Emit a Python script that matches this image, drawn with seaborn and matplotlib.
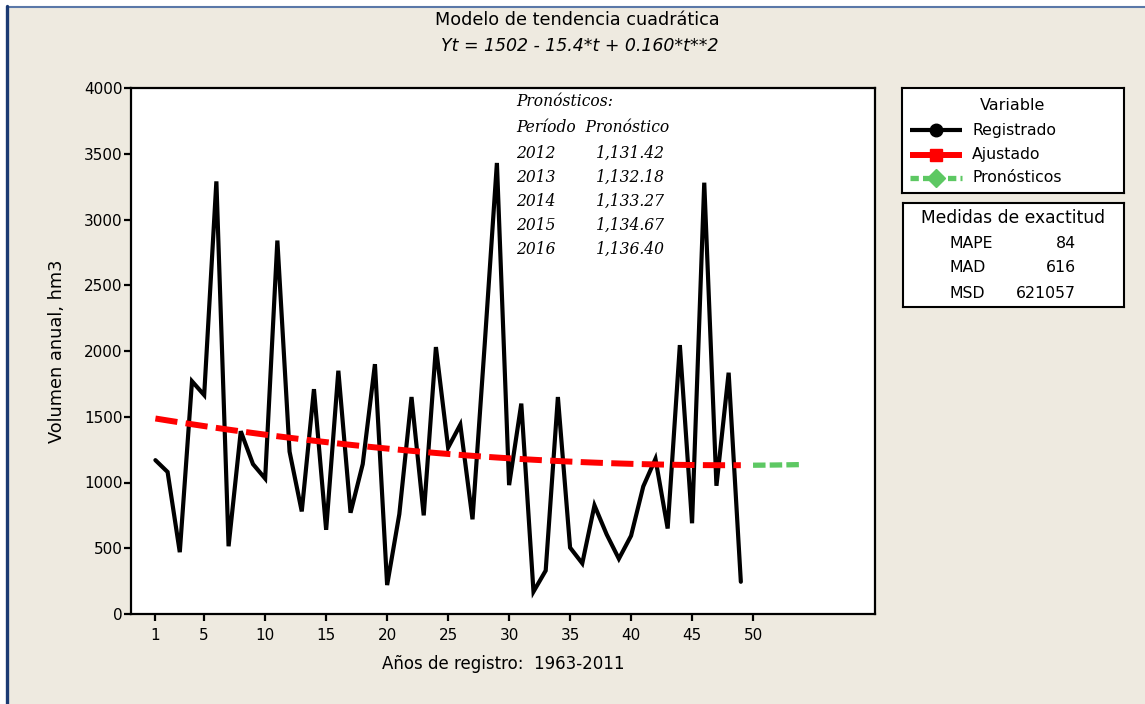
import numpy as np
import pandas as pd
import matplotlib
matplotlib.use("Agg")
import matplotlib.pyplot as plt
from matplotlib.patches import Rectangle
from matplotlib.lines import Line2D
import seaborn as sns

# Annual runoff volume, 1963-2011 (t = 1..49)
periodo = list(range(1, 50))
registrado = [1170, 1080, 470, 1770, 1665, 3290, 515, 1390, 1140, 1030,
              2840, 1235, 780, 1710, 640, 1850, 770, 1140, 1900, 220,
              760, 1650, 750, 2030, 1265, 1440, 720, 2050, 3430, 980,
              1600, 170, 330, 1650, 505, 385, 826, 605, 420, 595,
              970, 1180, 650, 2045, 690, 3280, 975, 1835, 245]

# Quadratic trend coefficients: Yt = b0 + b1*t + b2*t**2
b0, b1, b2 = 1502.0, -15.4, 0.160

# Forecasts for 2012-2016 (t = 50..54)
anios_pron = [2012, 2013, 2014, 2015, 2016]
t_pron = [50, 51, 52, 53, 54]
pronostico = [1131.42, 1132.18, 1133.27, 1134.67, 1136.40]

# Accuracy measures
medidas = ["MAPE", "MAD", "MSD"]
valores_medidas = [84, 616, 621057]

x_ticks = [1, 5, 10, 15, 20, 25, 30, 35, 40, 45, 50]
y_ticks = list(range(0, 4001, 500))

t_arr = np.array(periodo, dtype=float)
ajustado = b0 + b1 * t_arr + b2 * t_arr ** 2

df_reg = pd.DataFrame({"t": periodo, "v": registrado})
df_aj = pd.DataFrame({"t": periodo, "v": ajustado})
df_pr = pd.DataFrame({"t": t_pron, "v": pronostico})

sns.set_style("white")
plt.rcParams["font.family"] = ["DejaVu Sans"]
plt.rcParams["lines.scale_dashes"] = False
plt.rcParams["text.color"] = "black"
plt.rcParams["axes.labelcolor"] = "black"
plt.rcParams["xtick.color"] = "black"
plt.rcParams["ytick.color"] = "black"

W, H = 1145, 704
BG = "#EEEAE0"
RED = "#FF0000"
GREEN = "#5DC863"

fig = plt.figure(figsize=(W / 100, H / 100), dpi=100, facecolor="white")


def fx(px):
    return px / W


def fy(py):
    return 1 - py / H


# window background and frame lines
fig.patches.append(Rectangle((fx(6), 0), 1 - fx(6), fy(7), transform=fig.transFigure,
                             facecolor=BG, edgecolor="none", zorder=-10))
fig.lines.append(Line2D([fx(7), 1], [fy(6.5), fy(6.5)], transform=fig.transFigure,
                        color="#5A78A8", lw=1.5))
fig.lines.append(Line2D([fx(7), fx(7)], [0, fy(6)], transform=fig.transFigure,
                        color="#1B3A73", lw=2.4))

ax = fig.add_axes([fx(131), fy(614), fx(875) - fx(131), fy(88) - fy(614)])
ax.set_facecolor("white")

sns.lineplot(data=df_reg, x="t", y="v", ax=ax, color="black", lw=3.0,
             solid_joinstyle="miter", legend=False, zorder=3)
sns.lineplot(data=df_aj, x="t", y="v", ax=ax, color=RED, lw=4.3,
             legend=False, zorder=4)
ax.lines[-1].set_dashes((16, 6))
ax.lines[-1].set_dash_capstyle("butt")
sns.lineplot(data=df_pr, x="t", y="v", ax=ax, color=GREEN, lw=3.8,
             legend=False, zorder=4)
ax.lines[-1].set_dashes((9, 3))
ax.lines[-1].set_dash_capstyle("butt")

ax.set_xlim(-1, 60)
ax.set_ylim(0, 4000)
ax.set_xticks(x_ticks)
ax.set_yticks(y_ticks)
ax.tick_params(axis="both", direction="out", length=5, width=1.6, color="black",
               labelsize=11, labelcolor="black")
ax.tick_params(axis="y", pad=1)
ax.tick_params(axis="x", pad=5)
ax.tick_params(axis="both", which="both", bottom=True, left=True)
for s in ax.spines.values():
    s.set_color("black")
    s.set_linewidth(1.6)
ax.set_xlabel("Años de registro:  1963-2011", fontsize=12, labelpad=9)
ax.set_ylabel("Volumen anual, hm3", fontsize=12.8, labelpad=13)

# titles
fig.text(fx(577), fy(20), "Modelo de tendencia cuadrática", ha="center", va="center",
         fontsize=12.7)
fig.text(fx(580), fy(46), "Yt = 1502 - 15.4*t + 0.160*t**2", ha="center", va="center",
         fontsize=12.5, style="italic")

# forecast table inside the plot
serif = dict(family="DejaVu Serif", style="italic", fontsize=11.2, color="black",
             va="center", ha="left")
fig.text(fx(516), fy(102), "Pronósticos:", **serif)
fig.text(fx(516), fy(128), "Período  Pronóstico", **serif)
for i, (a, p) in enumerate(zip(anios_pron, pronostico)):
    yy = 153 + i * 24.2
    fig.text(fx(516), fy(yy), f"{a}", **serif)
    fig.text(fx(596), fy(yy), f"{p:,.2f}", **serif)

# legend box
lax = fig.add_axes([fx(902), fy(193), fx(1124) - fx(902), fy(88) - fy(193)])
lax.set_xlim(902, 1124)
lax.set_ylim(193, 88)
lax.set_xticks([])
lax.set_yticks([])
lax.set_facecolor("white")
for s in lax.spines.values():
    s.set_color("black")
    s.set_linewidth(1.5)
lax.text(1013, 105, "Variable", ha="center", va="center", fontsize=11.5)
keys = [("Registrado", "black", "o", (None, None), 3.0, 9),
        ("Ajustado", RED, "s", (None, None), 4.3, 9),
        ("Pronósticos", GREEN, "D", (6, 3), 3.8, 9)]
for j, (lab, col, mk, dsh, lw, ms) in enumerate(keys):
    yy = [130, 155, 178][j]
    ln, = lax.plot([910, 962], [yy, yy], color=col, lw=lw, solid_capstyle="butt")
    if dsh[0] is not None:
        ln.set_dashes(dsh)
    lax.plot([936], [yy], marker=mk, color=col, ms=ms, lw=0)
    lax.text(972, yy, lab, ha="left", va="center", fontsize=11.3)

# accuracy box
max_ = fig.add_axes([fx(903), fy(307), fx(1124) - fx(903), fy(203) - fy(307)])
max_.set_xlim(903, 1124)
max_.set_ylim(307, 203)
max_.set_xticks([])
max_.set_yticks([])
max_.set_facecolor("white")
for s in max_.spines.values():
    s.set_color("black")
    s.set_linewidth(1.5)
max_.text(1013, 218, "Medidas de exactitud", ha="center", va="center", fontsize=12.3)
for k, (m, v) in enumerate(zip(medidas, valores_medidas)):
    yy = 243 + k * 25
    max_.text(950, yy, m, ha="left", va="center", fontsize=11.3)
    max_.text(1076, yy, f"{v}", ha="right", va="center", fontsize=11.3)

fig.savefig("out.png", dpi=100, facecolor=fig.get_facecolor())
